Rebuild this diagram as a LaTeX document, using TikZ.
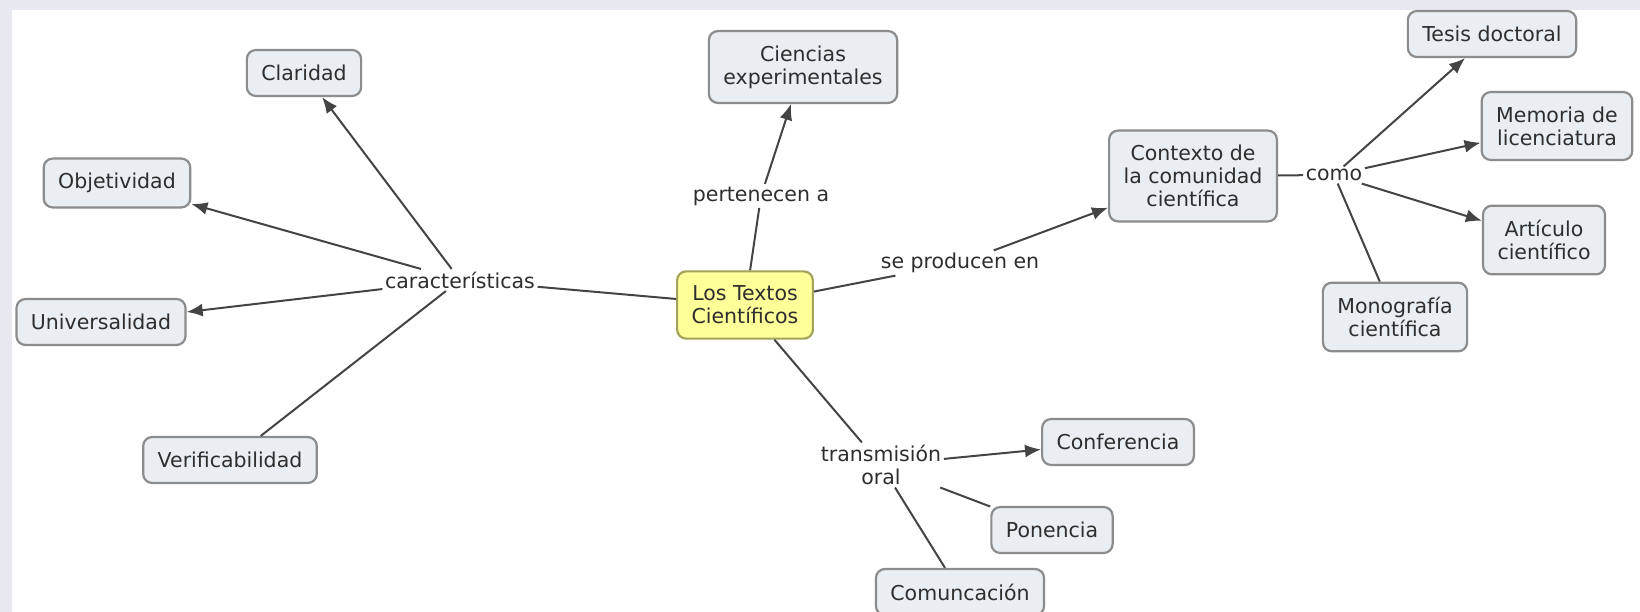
\documentclass[tikz,border=0pt]{standalone}
\usepackage{fontspec}
\setmainfont{DejaVu Sans}
\usetikzlibrary{arrows.meta}
\definecolor{conceptfill}{HTML}{E8EEF2}
\definecolor{conceptdraw}{HTML}{8C8C8C}
\definecolor{mainfill}{HTML}{FFFF99}
\definecolor{maindraw}{HTML}{A3A35C}
\definecolor{txt}{HTML}{2E2E2E}
\definecolor{edgecol}{HTML}{444444}
\definecolor{framecol}{HTML}{E8E8F0}
\begin{document}
\begin{tikzpicture}[x=1pt,y=-1pt,
  every node/.style={font=\fontsize{20.5}{23}\selectfont, text=txt, align=center},
  concept/.style={draw=conceptdraw, fill=conceptfill, line width=2.2pt, rounded corners=9pt,
    inner xsep=14.5pt, inner ysep=14.5pt, minimum height=46pt},
  maincon/.style={concept, fill=mainfill, draw=maindraw},
  linklabel/.style={inner sep=2.5pt},
  link/.style={draw=edgecol, line width=2pt},
  arrowlink/.style={link, -{Latex[length=16pt,width=13pt]}}
]
\useasboundingbox (0,0) rectangle (1640,612);
\fill[white] (0,0) rectangle (1640,612);
\fill[framecol] (0,0) rectangle (1640,10);
\fill[framecol] (0,0) rectangle (12,612);

% concepts
\node[maincon] (textos) at (745,305) {Los Textos\\Científicos};
\node[concept] (claridad) at (304,73) {Claridad};
\node[concept] (objetividad) at (117,183) {Objetividad};
\node[concept] (universalidad) at (101,322) {Universalidad};
\node[concept] (verificabilidad) at (230,460) {Verificabilidad};
\node[concept] (ciencias) at (803,67) {Ciencias\\experimentales};
\node[concept] (contexto) at (1193,176) {Contexto de\\la comunidad\\científica};
\node[concept] (tesis) at (1492,34) {Tesis doctoral};
\node[concept] (memoria) at (1557,126) {Memoria de\\licenciatura};
\node[concept] (articulo) at (1544,240) {Artículo\\científico};
\node[concept] (monografia) at (1395,317) {Monografía\\científica};
\node[concept] (conferencia) at (1118,442) {Conferencia};
\node[concept] (ponencia) at (1052,530) {Ponencia};
\node[concept] (comunicacion) at (960,592) {Comuncación};

% linking phrases
\node[linklabel] (caract) at (460,280) {características};
\node[linklabel] (pert) at (761,196) {pertenecen a};
\node[linklabel] (seprod) at (960,263) {se producen en};
\node[linklabel] (como) at (1334,175) {como};
\node[linklabel] (trans) at (881,465) {transmisión\\oral};

% connectors
\draw[link] (textos) -- (caract);
\draw[arrowlink] (caract) -- (claridad);
\draw[arrowlink] (caract) -- (objetividad);
\draw[arrowlink] (caract) -- (universalidad);
\draw[link] (caract) -- (verificabilidad);

\draw[link] (textos) -- (pert);
\draw[arrowlink] (pert) -- (ciencias);

\draw[link] (textos) -- (seprod);
\draw[arrowlink] (seprod) -- (contexto);

\draw[link] (contexto) -- (como);
\draw[arrowlink] (como) -- (tesis);
\draw[arrowlink] (como) -- (memoria);
\draw[arrowlink] (como) -- (articulo);
\draw[link] (como) -- (monografia);

\draw[link] (textos) -- (trans);
\draw[arrowlink] (trans) -- (conferencia);
\draw[link] (trans) -- (ponencia);
\draw[link] (trans) -- (comunicacion);
\end{tikzpicture}
\end{document}
